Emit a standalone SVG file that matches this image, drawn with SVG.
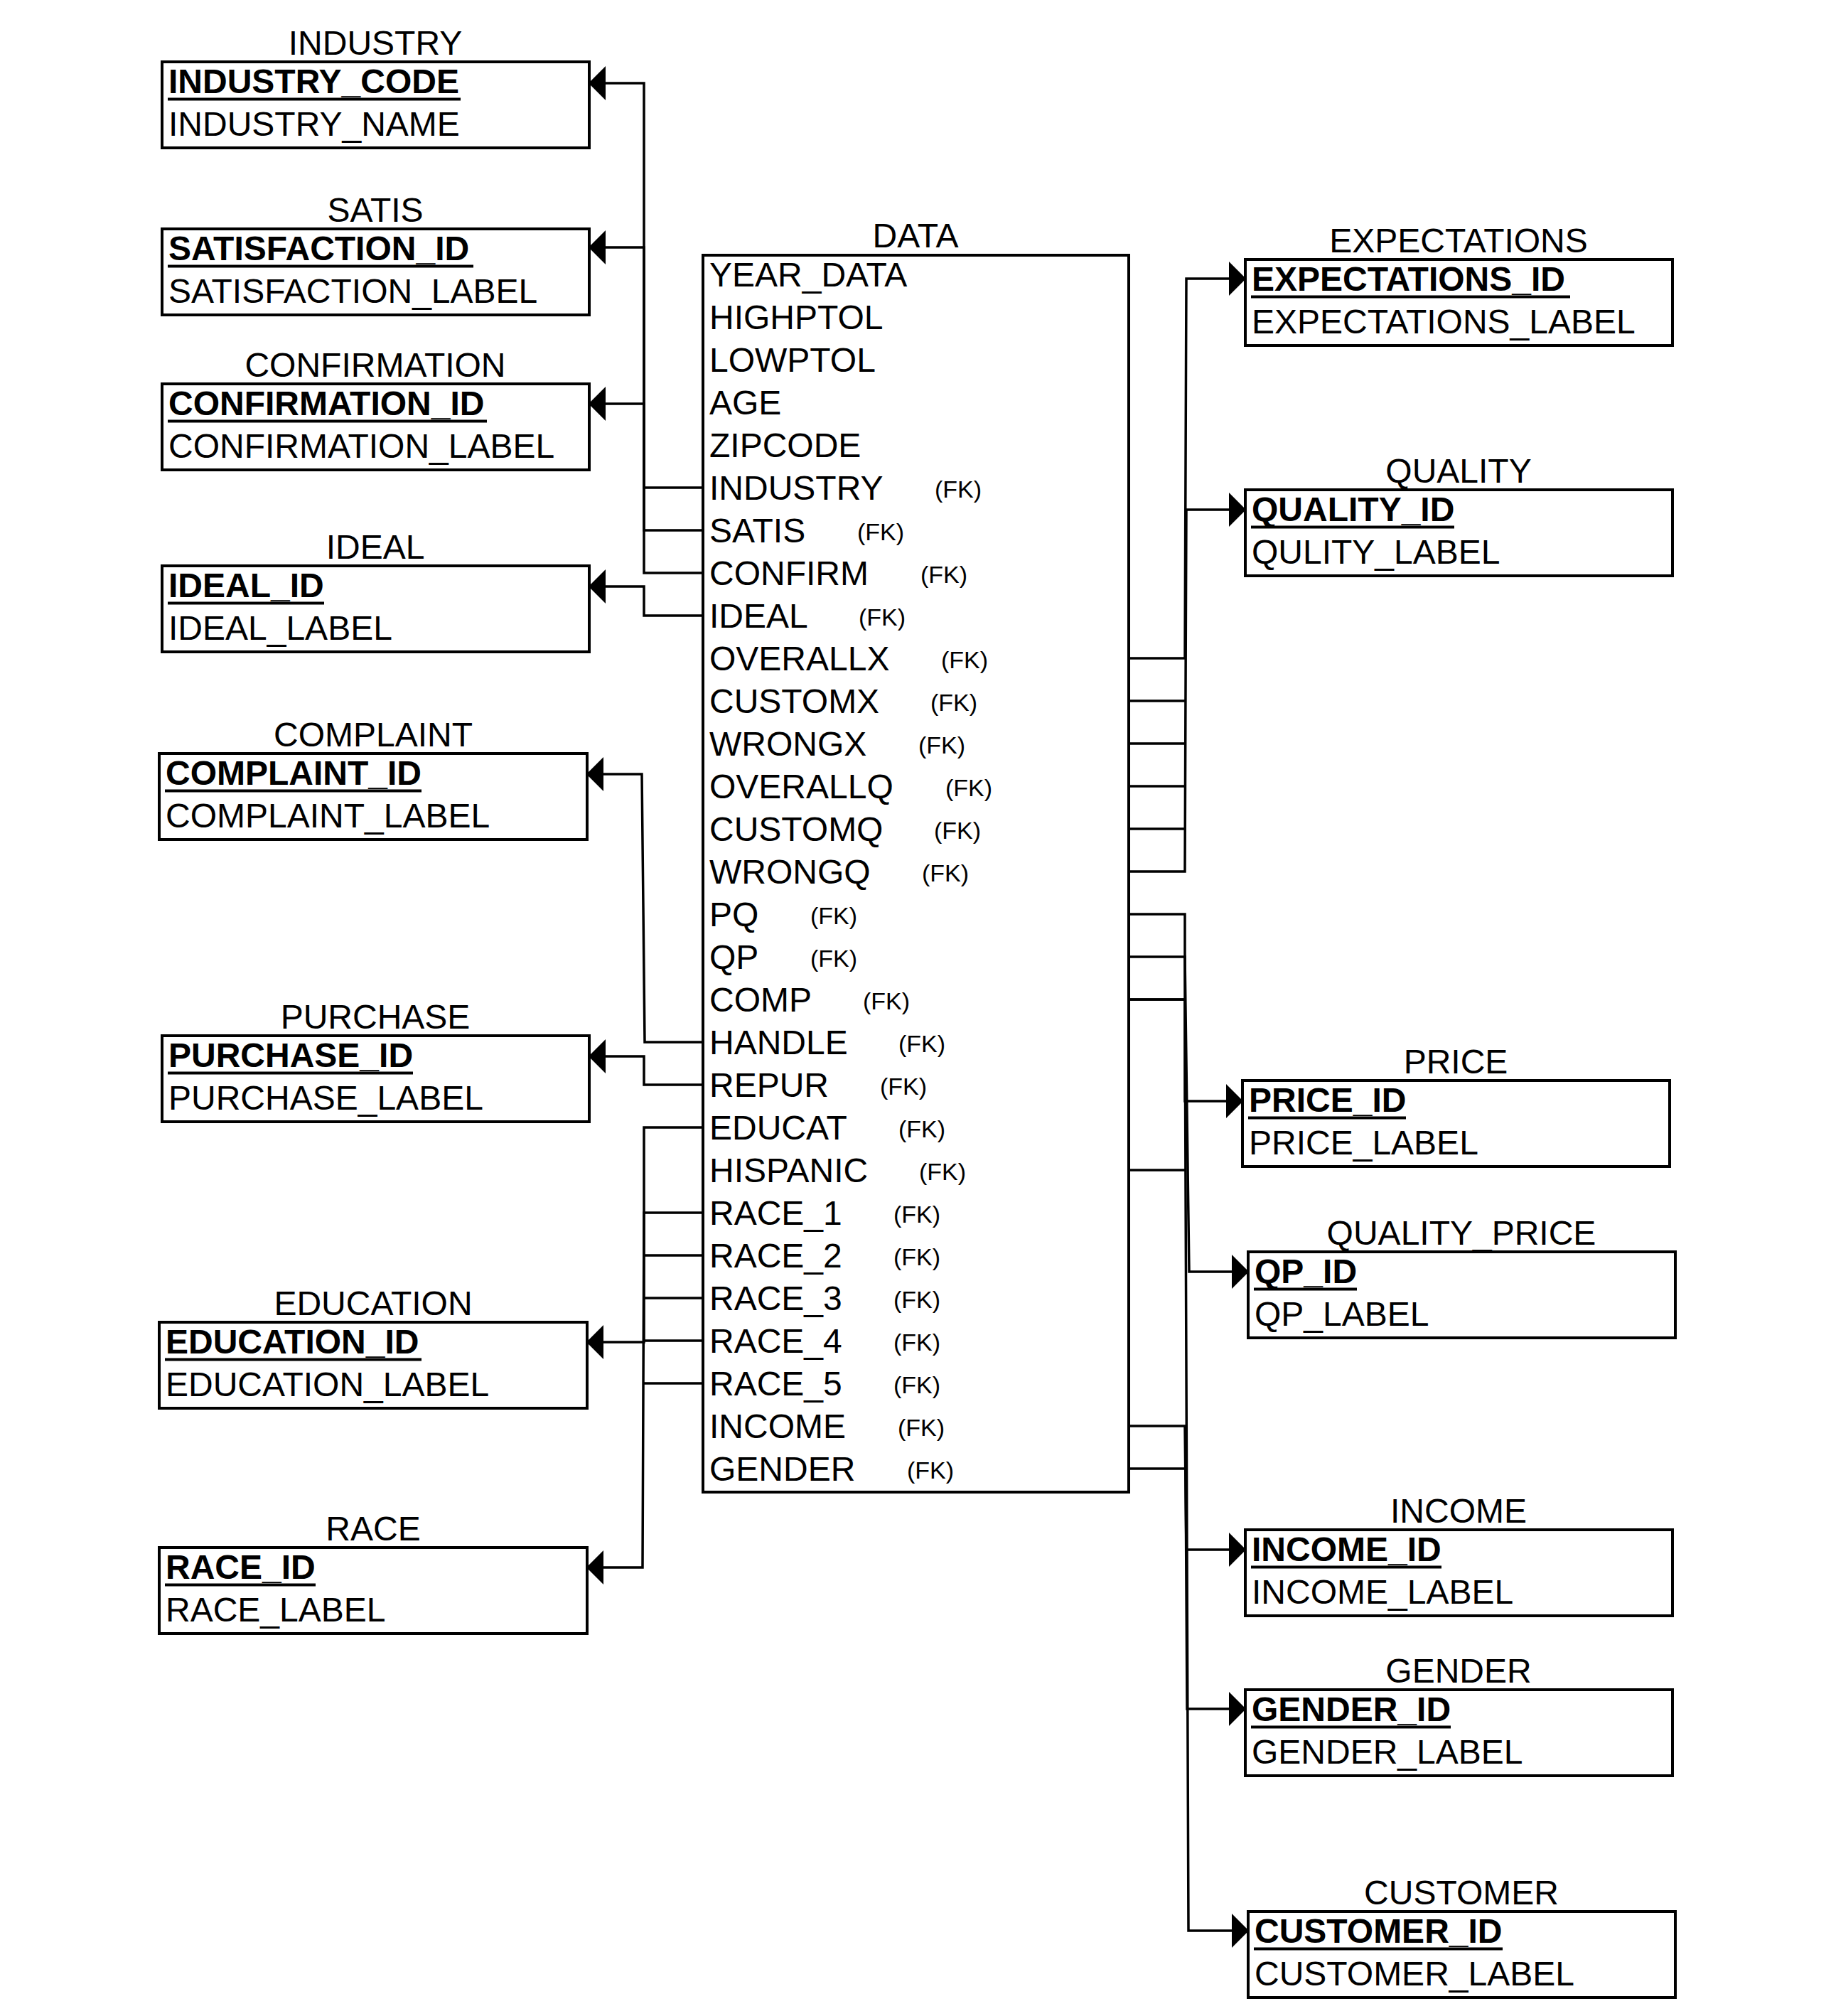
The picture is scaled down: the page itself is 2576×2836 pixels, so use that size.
<svg xmlns="http://www.w3.org/2000/svg" width="2576" height="2836" viewBox="0 0 2576 2836">
<style>
.box{fill:#fff;stroke:#000;stroke-width:4}
text{font-family:"Liberation Sans",Arial,sans-serif;font-size:48px;fill:#000}
.ttl{text-anchor:middle}
.pk{font-weight:bold}
.fk{font-size:34px}
.ul{stroke:#000;stroke-width:4}
.c{fill:none;stroke:#000;stroke-width:3.5;stroke-linejoin:miter}
.a{marker-end:url(#arr)}
</style>
<defs>
<marker id="arr" markerUnits="userSpaceOnUse" markerWidth="24" markerHeight="48" viewBox="0 0 24 48" refX="23" refY="24" orient="auto">
<path d="M0,0 L24,24 L0,48 Z" fill="#000"/>
</marker>
</defs>
<rect width="2576" height="2836" fill="#fff"/>

<g id="connectors">
<path class="c a" d="M989,686 H906 V117 H829"/>
<path class="c a" d="M989,746 H906 V348 H829"/>
<path class="c a" d="M989,806 H906 V568 H829"/>
<path class="c a" d="M989,866 H906 V825 H829"/>
<path class="c a" d="M989,1466 H907 L903,1089 H826"/>
<path class="c a" d="M989,1526 H906 V1486 H829"/>
<path class="c a" d="M989,1586 H906 V1888 H826"/>
<path class="c a" d="M989,1706 H906 L904,2205 H826"/>
<path class="c" d="M989,1766 H906"/>
<path class="c" d="M989,1826 H906"/>
<path class="c" d="M989,1886 H906"/>
<path class="c" d="M989,1946 H906"/>
<path class="c a" d="M1588,926 H1667 L1669,392 H1752"/>
<path class="c a" d="M1588,1226 H1667 L1669,717 H1752"/>
<path class="c" d="M1588,986 H1667"/>
<path class="c" d="M1588,1046 H1667"/>
<path class="c" d="M1588,1106 H1667"/>
<path class="c" d="M1588,1166 H1667"/>
<path class="c a" d="M1588,1286 H1667 V1549 H1748"/>
<path class="c a" d="M1588,1346 H1667 L1673,1789 H1756"/>
<path class="c" d="M1588,1406 H1667"/>
<path class="c" d="M1588,1646 H1667"/>
<path class="c a" d="M1588,2006 H1667 L1669,2180 H1752"/>
<path class="c a" d="M1588,2066 H1668 L1670,2404 H1752"/>
<path class="c a" d="M1588,1406 H1667 L1672,2716 H1756"/>
</g>

<g id="industry">
<text class="ttl" x="528" y="77">INDUSTRY</text>
<rect class="box" x="228" y="87" width="601" height="121"/>
<text class="pk" x="237" y="131">INDUSTRY_CODE</text>
<line class="ul" x1="236" y1="139.5" x2="648" y2="139.5"/>
<text x="237" y="191">INDUSTRY_NAME</text>
</g>
<g id="satis">
<text class="ttl" x="528" y="312">SATIS</text>
<rect class="box" x="228" y="322" width="601" height="121"/>
<text class="pk" x="237" y="366">SATISFACTION_ID</text>
<line class="ul" x1="236" y1="374.5" x2="666" y2="374.5"/>
<text x="237" y="426">SATISFACTION_LABEL</text>
</g>
<g id="confirmation">
<text class="ttl" x="528" y="530">CONFIRMATION</text>
<rect class="box" x="228" y="540" width="601" height="121"/>
<text class="pk" x="237" y="584">CONFIRMATION_ID</text>
<line class="ul" x1="236" y1="592.5" x2="685" y2="592.5"/>
<text x="237" y="644">CONFIRMATION_LABEL</text>
</g>
<g id="ideal">
<text class="ttl" x="528" y="786">IDEAL</text>
<rect class="box" x="228" y="796" width="601" height="121"/>
<text class="pk" x="237" y="840">IDEAL_ID</text>
<line class="ul" x1="236" y1="848.5" x2="456" y2="848.5"/>
<text x="237" y="900">IDEAL_LABEL</text>
</g>
<g id="complaint">
<text class="ttl" x="525" y="1050">COMPLAINT</text>
<rect class="box" x="224" y="1060" width="602" height="121"/>
<text class="pk" x="233" y="1104">COMPLAINT_ID</text>
<line class="ul" x1="232" y1="1112.5" x2="593" y2="1112.5"/>
<text x="233" y="1164">COMPLAINT_LABEL</text>
</g>
<g id="purchase">
<text class="ttl" x="528" y="1447">PURCHASE</text>
<rect class="box" x="228" y="1457" width="601" height="121"/>
<text class="pk" x="237" y="1501">PURCHASE_ID</text>
<line class="ul" x1="236" y1="1509.5" x2="581" y2="1509.5"/>
<text x="237" y="1561">PURCHASE_LABEL</text>
</g>
<g id="education">
<text class="ttl" x="525" y="1850">EDUCATION</text>
<rect class="box" x="224" y="1860" width="602" height="121"/>
<text class="pk" x="233" y="1904">EDUCATION_ID</text>
<line class="ul" x1="232" y1="1912.5" x2="593" y2="1912.5"/>
<text x="233" y="1964">EDUCATION_LABEL</text>
</g>
<g id="race">
<text class="ttl" x="525" y="2167">RACE</text>
<rect class="box" x="224" y="2177" width="602" height="121"/>
<text class="pk" x="233" y="2221">RACE_ID</text>
<line class="ul" x1="232" y1="2229.5" x2="444" y2="2229.5"/>
<text x="233" y="2281">RACE_LABEL</text>
</g>

<g id="data">
<text class="ttl" x="1288" y="348">DATA</text>
<rect class="box" x="989" y="359" width="599" height="1740"/>
<text x="998" y="403">YEAR_DATA</text>
<text x="998" y="463">HIGHPTOL</text>
<text x="998" y="523">LOWPTOL</text>
<text x="998" y="583">AGE</text>
<text x="998" y="643">ZIPCODE</text>
<text x="998" y="703">INDUSTRY</text><text class="fk" x="1315" y="700">(FK)</text>
<text x="998" y="763">SATIS</text><text class="fk" x="1206" y="760">(FK)</text>
<text x="998" y="823">CONFIRM</text><text class="fk" x="1295" y="820">(FK)</text>
<text x="998" y="883">IDEAL</text><text class="fk" x="1208" y="880">(FK)</text>
<text x="998" y="943">OVERALLX</text><text class="fk" x="1324" y="940">(FK)</text>
<text x="998" y="1003">CUSTOMX</text><text class="fk" x="1309" y="1000">(FK)</text>
<text x="998" y="1063">WRONGX</text><text class="fk" x="1292" y="1060">(FK)</text>
<text x="998" y="1123">OVERALLQ</text><text class="fk" x="1330" y="1120">(FK)</text>
<text x="998" y="1183">CUSTOMQ</text><text class="fk" x="1314" y="1180">(FK)</text>
<text x="998" y="1243">WRONGQ</text><text class="fk" x="1297" y="1240">(FK)</text>
<text x="998" y="1303">PQ</text><text class="fk" x="1140" y="1300">(FK)</text>
<text x="998" y="1363">QP</text><text class="fk" x="1140" y="1360">(FK)</text>
<text x="998" y="1423">COMP</text><text class="fk" x="1214" y="1420">(FK)</text>
<text x="998" y="1483">HANDLE</text><text class="fk" x="1264" y="1480">(FK)</text>
<text x="998" y="1543">REPUR</text><text class="fk" x="1238" y="1540">(FK)</text>
<text x="998" y="1603">EDUCAT</text><text class="fk" x="1264" y="1600">(FK)</text>
<text x="998" y="1663">HISPANIC</text><text class="fk" x="1293" y="1660">(FK)</text>
<text x="998" y="1723">RACE_1</text><text class="fk" x="1257" y="1720">(FK)</text>
<text x="998" y="1783">RACE_2</text><text class="fk" x="1257" y="1780">(FK)</text>
<text x="998" y="1843">RACE_3</text><text class="fk" x="1257" y="1840">(FK)</text>
<text x="998" y="1903">RACE_4</text><text class="fk" x="1257" y="1900">(FK)</text>
<text x="998" y="1963">RACE_5</text><text class="fk" x="1257" y="1960">(FK)</text>
<text x="998" y="2023">INCOME</text><text class="fk" x="1263" y="2020">(FK)</text>
<text x="998" y="2083">GENDER</text><text class="fk" x="1276" y="2080">(FK)</text>
</g>

<g id="expectations">
<text class="ttl" x="2052" y="355">EXPECTATIONS</text>
<rect class="box" x="1752" y="365" width="601" height="121"/>
<text class="pk" x="1761" y="409">EXPECTATIONS_ID</text>
<line class="ul" x1="1760" y1="417.5" x2="2209" y2="417.5"/>
<text x="1761" y="469">EXPECTATIONS_LABEL</text>
</g>
<g id="quality">
<text class="ttl" x="2052" y="679">QUALITY</text>
<rect class="box" x="1752" y="689" width="601" height="121"/>
<text class="pk" x="1761" y="733">QUALITY_ID</text>
<line class="ul" x1="1760" y1="741.5" x2="2046" y2="741.5"/>
<text x="1761" y="793">QULITY_LABEL</text>
</g>
<g id="price">
<text class="ttl" x="2048" y="1510">PRICE</text>
<rect class="box" x="1748" y="1520" width="601" height="121"/>
<text class="pk" x="1757" y="1564">PRICE_ID</text>
<line class="ul" x1="1756" y1="1572.5" x2="1978" y2="1572.5"/>
<text x="1757" y="1624">PRICE_LABEL</text>
</g>
<g id="quality_price">
<text class="ttl" x="2056" y="1751">QUALITY_PRICE</text>
<rect class="box" x="1756" y="1761" width="601" height="121"/>
<text class="pk" x="1765" y="1805">QP_ID</text>
<line class="ul" x1="1764" y1="1813.5" x2="1909" y2="1813.5"/>
<text x="1765" y="1865">QP_LABEL</text>
</g>
<g id="income">
<text class="ttl" x="2052" y="2142">INCOME</text>
<rect class="box" x="1752" y="2152" width="601" height="121"/>
<text class="pk" x="1761" y="2196">INCOME_ID</text>
<line class="ul" x1="1760" y1="2204.5" x2="2028" y2="2204.5"/>
<text x="1761" y="2256">INCOME_LABEL</text>
</g>
<g id="gender">
<text class="ttl" x="2052" y="2367">GENDER</text>
<rect class="box" x="1752" y="2377" width="601" height="121"/>
<text class="pk" x="1761" y="2421">GENDER_ID</text>
<line class="ul" x1="1760" y1="2429.5" x2="2041" y2="2429.5"/>
<text x="1761" y="2481">GENDER_LABEL</text>
</g>
<g id="customer">
<text class="ttl" x="2056" y="2679">CUSTOMER</text>
<rect class="box" x="1756" y="2689" width="601" height="121"/>
<text class="pk" x="1765" y="2733">CUSTOMER_ID</text>
<line class="ul" x1="1764" y1="2741.5" x2="2114" y2="2741.5"/>
<text x="1765" y="2793">CUSTOMER_LABEL</text>
</g>
</svg>
